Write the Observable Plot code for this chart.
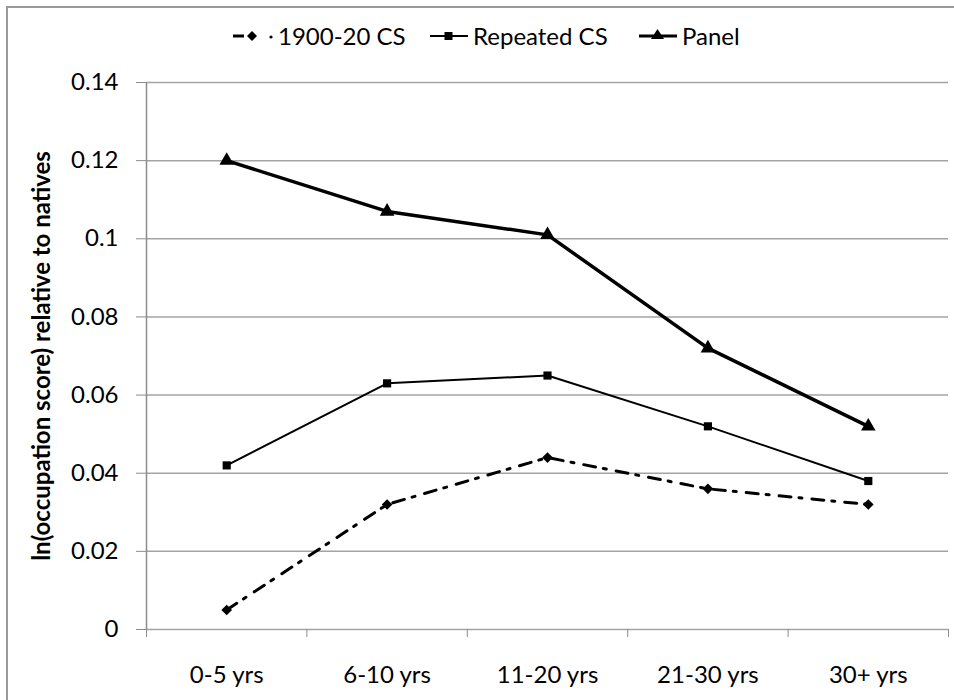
<!DOCTYPE html>
<html>
<head>
<meta charset="utf-8">
<script src="https://cdn.jsdelivr.net/npm/d3@7"></script>
<script src="https://cdn.jsdelivr.net/npm/@observablehq/plot@0.6"></script>
<style>
  body { margin: 0; background: #fff; font-family: Lato, "Open Sans", sans-serif; }
  #wrap { position: relative; width: 954px; height: 700px; overflow: hidden; background: #fff; }
  #border { position: absolute; left: 6px; top: 6px; width: 980px; height: 720px;
            border-left: 2px solid #9a9a9a; border-top: 2px solid #9a9a9a; pointer-events: none; }
  #legend { position: relative; height: 56px; }
  .item { position: absolute; top: 22px; display: flex; align-items: center; font-size: 24px; line-height: 28px; color: #000; }
  .item svg { display: block; margin-right: 3px; }
  #chart svg { display: block; }
  g[aria-label="y-axis label"] text { font-weight: 700; }
</style>
</head>
<body>
<div id="wrap">
  <div id="legend"></div>
  <div id="chart"></div>
  <div id="border"></div>
</div>
<script>
// ---- data ----
const categories = ["0-5 yrs", "6-10 yrs", "11-20 yrs", "21-30 yrs", "30+ yrs"];
const cs1900 = [0.005, 0.032, 0.044, 0.036, 0.032];
const repeatedCS = [0.042, 0.063, 0.065, 0.052, 0.038];
const panel = [0.120, 0.107, 0.101, 0.072, 0.052];
const seriesNames = ["1900-20 CS", "Repeated CS", "Panel"];
const yTicks = [0, 0.02, 0.04, 0.06, 0.08, 0.10, 0.12, 0.14];
const yLabel = "ln(occupation score) relative to natives";

// ---- build tables ----
const rows = (vals, name) => vals.map((v, i) => ({i, category: categories[i], value: v, series: name}));
const d1900 = rows(cs1900, seriesNames[0]);
const dRep = rows(repeatedCS, seriesNames[1]);
const dPanel = rows(panel, seriesNames[2]);

const xDomain = [-0.5, categories.length - 0.5];
const boundaries = d3.range(categories.length + 1).map(i => i - 0.5);
const centers = d3.range(categories.length);
const gray = "#8c8c8c";
const gridGray = "#a3a3a3";

const chart = Plot.plot({
  width: 954,
  height: 644,
  marginLeft: 146,
  marginRight: 6,
  marginTop: 26,
  marginBottom: 71,
  style: { fontFamily: "Lato, 'Open Sans', sans-serif", fontSize: "24px", color: "#000", background: "#fff" },
  x: { domain: xDomain },
  y: { domain: [0, 0.14] },
  marks: [
    Plot.ruleY(yTicks, { stroke: gridGray, strokeWidth: 1.5 }),
    Plot.ruleX([xDomain[0]], { stroke: gray, strokeWidth: 1.5 }),
    Plot.axisY({
      ticks: yTicks, tickSize: 10, tickPadding: 18, stroke: gray,
      tickFormat: d => String(+d.toFixed(2)),
      label: yLabel, labelAnchor: "center", labelOffset: 114, labelArrow: "none"
    }),
    Plot.axisX({ ticks: boundaries, tickSize: 8, tickFormat: () => "", stroke: gray, label: null }),
    Plot.axisX({ ticks: centers, tickSize: 0, tickPadding: 36, tickFormat: i => categories[i], label: null }),
    Plot.line(d1900, { x: "i", y: "value", stroke: "#000", strokeWidth: 3, strokeDasharray: "12,8,3,10" }),
    Plot.line(dRep, { x: "i", y: "value", stroke: "#000", strokeWidth: 2 }),
    Plot.line(dPanel, { x: "i", y: "value", stroke: "#000", strokeWidth: 3.5 }),
    Plot.dot(d1900, { x: "i", y: "value", symbol: "diamond2", r: 4.8, fill: "#000", stroke: "none" }),
    Plot.dot(dRep, { x: "i", y: "value", symbol: "square", r: 4.6, fill: "#000", stroke: "none" }),
    Plot.dot(dPanel, { x: "i", y: "value", symbol: "triangle", r: 5.4, fill: "#000", stroke: "none" })
  ]
});
document.getElementById("chart").appendChild(chart);

// ---- legend ----
const legendMarkers = [
  `<svg width="42" height="20"><line x1="0" y1="10" x2="11" y2="10" stroke="#000" stroke-width="3"/>
     <path d="M19,5 L24,10 L19,15 L14,10 Z" fill="#000"/>
     <circle cx="38" cy="11" r="1.6" fill="#000"/></svg>`,
  `<svg width="40" height="20"><line x1="0" y1="10" x2="38" y2="10" stroke="#000" stroke-width="2"/>
     <rect x="14.5" y="6" width="8" height="8" fill="#000"/></svg>`,
  `<svg width="40" height="20"><line x1="0" y1="10" x2="38" y2="10" stroke="#000" stroke-width="3"/>
     <path d="M18.5,3 L25,13 L12,13 Z" fill="#000"/></svg>`
];
const legendLeft = [233, 430, 639];
const legend = document.getElementById("legend");
seriesNames.forEach((name, k) => {
  const it = document.createElement("div");
  it.className = "item";
  it.style.left = legendLeft[k] + "px";
  it.innerHTML = legendMarkers[k] + `<span>${name}</span>`;
  legend.appendChild(it);
});
</script>
</body>
</html>
